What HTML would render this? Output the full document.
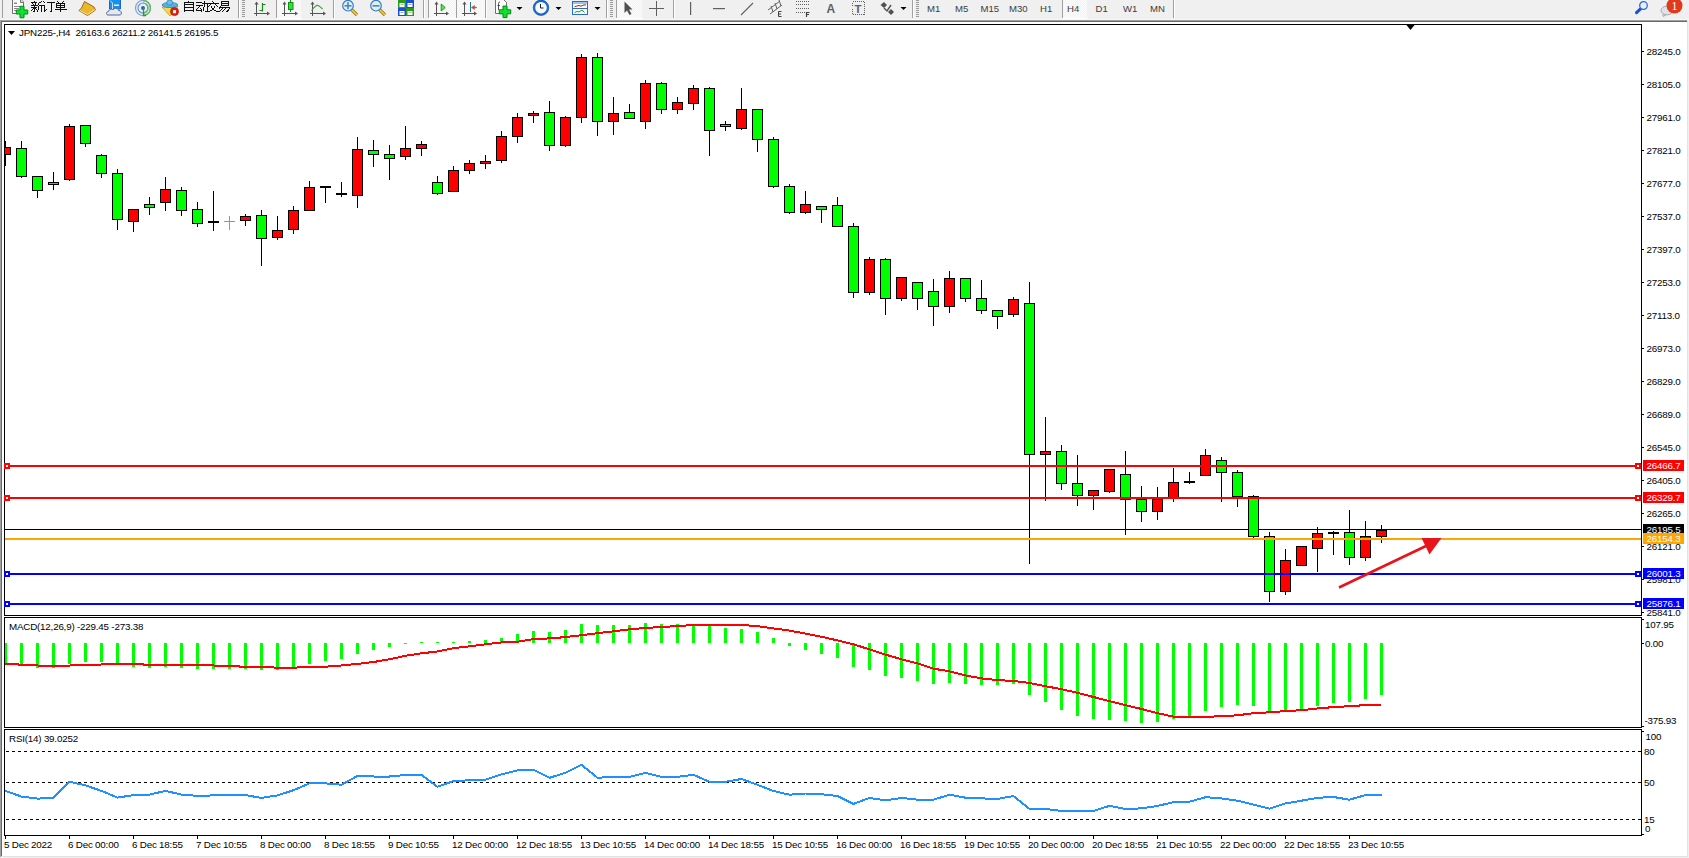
<!DOCTYPE html>
<html><head><meta charset="utf-8"><title>MT4 JPN225 H4</title>
<style>html,body{margin:0;padding:0;width:1689px;height:858px;overflow:hidden;background:#f0f0f0;font-family:"Liberation Sans", sans-serif;}</style>
</head><body><svg width="1689" height="858" viewBox="0 0 1689 858" style="display:block"><rect x="0" y="0" width="1689" height="858" fill="#f0f0f0"/><rect x="0" y="19" width="1689" height="1" fill="#f7f7f7"/><rect x="0" y="20" width="1688" height="1" fill="#a0a0a0"/><rect x="0" y="20" width="1" height="837" fill="#a0a0a0"/><rect x="1" y="21" width="1686" height="1" fill="#696969"/><rect x="1" y="21" width="1" height="835" fill="#696969"/><rect x="2" y="22" width="1685" height="834" fill="#ffffff"/><rect x="1687" y="20" width="1" height="837" fill="#e3e3e3"/><rect x="1" y="856" width="1687" height="1" fill="#e3e3e3"/><rect x="4" y="24" width="1638" height="1" fill="#000"/><rect x="4" y="615" width="1638" height="1" fill="#000"/><rect x="4" y="24" width="1" height="592" fill="#000"/><rect x="1641" y="24" width="1" height="592" fill="#000"/><rect x="4" y="617" width="1638" height="1" fill="#000"/><rect x="4" y="727" width="1638" height="1" fill="#000"/><rect x="4" y="617" width="1" height="111" fill="#000"/><rect x="1641" y="617" width="1" height="111" fill="#000"/><rect x="4" y="729" width="1638" height="1" fill="#000"/><rect x="4" y="835" width="1638" height="1" fill="#000"/><rect x="4" y="729" width="1" height="107" fill="#000"/><rect x="1641" y="729" width="1" height="107" fill="#000"/><rect x="1642" y="51" width="2" height="1" fill="#000"/><rect x="1642" y="84" width="2" height="1" fill="#000"/><rect x="1642" y="117" width="2" height="1" fill="#000"/><rect x="1642" y="150" width="2" height="1" fill="#000"/><rect x="1642" y="183" width="2" height="1" fill="#000"/><rect x="1642" y="216" width="2" height="1" fill="#000"/><rect x="1642" y="249" width="2" height="1" fill="#000"/><rect x="1642" y="282" width="2" height="1" fill="#000"/><rect x="1642" y="315" width="2" height="1" fill="#000"/><rect x="1642" y="348" width="2" height="1" fill="#000"/><rect x="1642" y="381" width="2" height="1" fill="#000"/><rect x="1642" y="414" width="2" height="1" fill="#000"/><rect x="1642" y="447" width="2" height="1" fill="#000"/><rect x="1642" y="480" width="2" height="1" fill="#000"/><rect x="1642" y="513" width="2" height="1" fill="#000"/><rect x="1642" y="546" width="2" height="1" fill="#000"/><rect x="1642" y="579" width="2" height="1" fill="#000"/><rect x="1642" y="612" width="2" height="1" fill="#000"/><rect x="1642" y="619" width="2" height="1" fill="#000"/><rect x="1642" y="643" width="2" height="1" fill="#000"/><rect x="1642" y="726" width="2" height="1" fill="#000"/><rect x="1642" y="731" width="2" height="1" fill="#000"/><rect x="1642" y="834" width="2" height="1" fill="#000"/><g font-family='"Liberation Sans", sans-serif' font-size="9.8" letter-spacing="-0.2" fill="#000"><text x="1646.5" y="55">28245.0</text><text x="1646.5" y="88">28105.0</text><text x="1646.5" y="121">27961.0</text><text x="1646.5" y="154">27821.0</text><text x="1646.5" y="187">27677.0</text><text x="1646.5" y="220">27537.0</text><text x="1646.5" y="253">27397.0</text><text x="1646.5" y="286">27253.0</text><text x="1646.5" y="319">27113.0</text><text x="1646.5" y="352">26973.0</text><text x="1646.5" y="385">26829.0</text><text x="1646.5" y="418">26689.0</text><text x="1646.5" y="451">26545.0</text><text x="1646.5" y="484">26405.0</text><text x="1646.5" y="517">26265.0</text><text x="1646.5" y="550">26121.0</text><text x="1646.5" y="583">25981.0</text><text x="1646.5" y="616">25841.0</text><text x="1645" y="628">107.95</text><text x="1645" y="647">0.00</text><text x="1644.5" y="724">-375.93</text><text x="1645.5" y="740">100</text><text x="1644" y="755">80</text><text x="1644" y="786">50</text><text x="1644" y="823">15</text><text x="1645" y="832">0</text></g><rect x="5" y="836" width="1" height="3" fill="#000"/><rect x="69" y="836" width="1" height="3" fill="#000"/><rect x="133" y="836" width="1" height="3" fill="#000"/><rect x="197" y="836" width="1" height="3" fill="#000"/><rect x="261" y="836" width="1" height="3" fill="#000"/><rect x="325" y="836" width="1" height="3" fill="#000"/><rect x="389" y="836" width="1" height="3" fill="#000"/><rect x="453" y="836" width="1" height="3" fill="#000"/><rect x="517" y="836" width="1" height="3" fill="#000"/><rect x="581" y="836" width="1" height="3" fill="#000"/><rect x="645" y="836" width="1" height="3" fill="#000"/><rect x="709" y="836" width="1" height="3" fill="#000"/><rect x="773" y="836" width="1" height="3" fill="#000"/><rect x="837" y="836" width="1" height="3" fill="#000"/><rect x="901" y="836" width="1" height="3" fill="#000"/><rect x="965" y="836" width="1" height="3" fill="#000"/><rect x="1029" y="836" width="1" height="3" fill="#000"/><rect x="1093" y="836" width="1" height="3" fill="#000"/><rect x="1157" y="836" width="1" height="3" fill="#000"/><rect x="1221" y="836" width="1" height="3" fill="#000"/><rect x="1285" y="836" width="1" height="3" fill="#000"/><rect x="1349" y="836" width="1" height="3" fill="#000"/><g font-family='"Liberation Sans", sans-serif' font-size="9.8" letter-spacing="-0.2" fill="#000"><text x="4" y="848">5 Dec 2022</text><text x="68" y="848">6 Dec 00:00</text><text x="132" y="848">6 Dec 18:55</text><text x="196" y="848">7 Dec 10:55</text><text x="260" y="848">8 Dec 00:00</text><text x="324" y="848">8 Dec 18:55</text><text x="388" y="848">9 Dec 10:55</text><text x="452" y="848">12 Dec 00:00</text><text x="516" y="848">12 Dec 18:55</text><text x="580" y="848">13 Dec 10:55</text><text x="644" y="848">14 Dec 00:00</text><text x="708" y="848">14 Dec 18:55</text><text x="772" y="848">15 Dec 10:55</text><text x="836" y="848">16 Dec 00:00</text><text x="900" y="848">16 Dec 18:55</text><text x="964" y="848">19 Dec 10:55</text><text x="1028" y="848">20 Dec 00:00</text><text x="1092" y="848">20 Dec 18:55</text><text x="1156" y="848">21 Dec 10:55</text><text x="1220" y="848">22 Dec 00:00</text><text x="1284" y="848">22 Dec 18:55</text><text x="1348" y="848">23 Dec 10:55</text></g><clipPath id="cmain"><rect x="5" y="25" width="1636" height="590"/></clipPath><clipPath id="cmacd"><rect x="5" y="618" width="1636" height="109"/></clipPath><clipPath id="crsi"><rect x="5" y="730" width="1636" height="105"/></clipPath><g clip-path="url(#cmain)" shape-rendering="crispEdges"><rect x="5" y="529" width="1636" height="1" fill="#000"/><rect x="5" y="141" width="1" height="25" fill="#000"/><rect x="0" y="147" width="11" height="8" fill="#000"/><rect x="1" y="148" width="9" height="6" fill="#ff0000"/><rect x="21" y="141" width="1" height="37" fill="#000"/><rect x="16" y="148" width="11" height="29" fill="#000"/><rect x="17" y="149" width="9" height="27" fill="#00ff00"/><rect x="37" y="176" width="1" height="22" fill="#000"/><rect x="32" y="176" width="11" height="15" fill="#000"/><rect x="33" y="177" width="9" height="13" fill="#00ff00"/><rect x="53" y="172" width="1" height="18" fill="#000"/><rect x="48" y="182" width="11" height="3" fill="#000"/><rect x="49" y="183" width="9" height="1" fill="#00ff00"/><rect x="69" y="124" width="1" height="57" fill="#000"/><rect x="64" y="126" width="11" height="54" fill="#000"/><rect x="65" y="127" width="9" height="52" fill="#ff0000"/><rect x="85" y="125" width="1" height="22" fill="#000"/><rect x="80" y="125" width="11" height="19" fill="#000"/><rect x="81" y="126" width="9" height="17" fill="#00ff00"/><rect x="101" y="154" width="1" height="24" fill="#000"/><rect x="96" y="155" width="11" height="19" fill="#000"/><rect x="97" y="156" width="9" height="17" fill="#00ff00"/><rect x="117" y="169" width="1" height="61" fill="#000"/><rect x="112" y="173" width="11" height="47" fill="#000"/><rect x="113" y="174" width="9" height="45" fill="#00ff00"/><rect x="133" y="209" width="1" height="23" fill="#000"/><rect x="128" y="209" width="11" height="13" fill="#000"/><rect x="129" y="210" width="9" height="11" fill="#ff0000"/><rect x="149" y="197" width="1" height="18" fill="#000"/><rect x="144" y="204" width="11" height="4" fill="#000"/><rect x="145" y="205" width="9" height="2" fill="#00ff00"/><rect x="165" y="177" width="1" height="34" fill="#000"/><rect x="160" y="189" width="11" height="14" fill="#000"/><rect x="161" y="190" width="9" height="12" fill="#ff0000"/><rect x="181" y="187" width="1" height="29" fill="#000"/><rect x="176" y="190" width="11" height="21" fill="#000"/><rect x="177" y="191" width="9" height="19" fill="#00ff00"/><rect x="197" y="202" width="1" height="25" fill="#000"/><rect x="192" y="209" width="11" height="15" fill="#000"/><rect x="193" y="210" width="9" height="13" fill="#00ff00"/><rect x="213" y="191" width="1" height="40" fill="#000"/><rect x="208" y="221" width="11" height="2" fill="#000"/><rect x="229" y="216" width="1" height="14" fill="#00ff00"/><rect x="224" y="221" width="11" height="1" fill="#00ff00"/><rect x="245" y="214" width="1" height="12" fill="#000"/><rect x="240" y="216" width="11" height="5" fill="#000"/><rect x="241" y="217" width="9" height="3" fill="#ff0000"/><rect x="261" y="210" width="1" height="56" fill="#000"/><rect x="256" y="215" width="11" height="24" fill="#000"/><rect x="257" y="216" width="9" height="22" fill="#00ff00"/><rect x="277" y="216" width="1" height="24" fill="#000"/><rect x="272" y="230" width="11" height="8" fill="#000"/><rect x="273" y="231" width="9" height="6" fill="#ff0000"/><rect x="293" y="206" width="1" height="28" fill="#000"/><rect x="288" y="210" width="11" height="20" fill="#000"/><rect x="289" y="211" width="9" height="18" fill="#ff0000"/><rect x="309" y="181" width="1" height="30" fill="#000"/><rect x="304" y="187" width="11" height="24" fill="#000"/><rect x="305" y="188" width="9" height="22" fill="#ff0000"/><rect x="325" y="186" width="1" height="17" fill="#000"/><rect x="320" y="186" width="11" height="2" fill="#000"/><rect x="341" y="182" width="1" height="15" fill="#000"/><rect x="336" y="193" width="11" height="2" fill="#000"/><rect x="357" y="137" width="1" height="71" fill="#000"/><rect x="352" y="149" width="11" height="47" fill="#000"/><rect x="353" y="150" width="9" height="45" fill="#ff0000"/><rect x="373" y="140" width="1" height="27" fill="#000"/><rect x="368" y="150" width="11" height="5" fill="#000"/><rect x="369" y="151" width="9" height="3" fill="#00ff00"/><rect x="389" y="145" width="1" height="35" fill="#000"/><rect x="384" y="154" width="11" height="5" fill="#000"/><rect x="385" y="155" width="9" height="3" fill="#00ff00"/><rect x="405" y="126" width="1" height="34" fill="#000"/><rect x="400" y="148" width="11" height="9" fill="#000"/><rect x="401" y="149" width="9" height="7" fill="#ff0000"/><rect x="421" y="141" width="1" height="15" fill="#000"/><rect x="416" y="144" width="11" height="5" fill="#000"/><rect x="417" y="145" width="9" height="3" fill="#ff0000"/><rect x="437" y="176" width="1" height="19" fill="#000"/><rect x="432" y="182" width="11" height="12" fill="#000"/><rect x="433" y="183" width="9" height="10" fill="#00ff00"/><rect x="453" y="166" width="1" height="26" fill="#000"/><rect x="448" y="170" width="11" height="22" fill="#000"/><rect x="449" y="171" width="9" height="20" fill="#ff0000"/><rect x="469" y="160" width="1" height="14" fill="#000"/><rect x="464" y="163" width="11" height="8" fill="#000"/><rect x="465" y="164" width="9" height="6" fill="#ff0000"/><rect x="485" y="155" width="1" height="14" fill="#000"/><rect x="480" y="161" width="11" height="3" fill="#000"/><rect x="481" y="162" width="9" height="1" fill="#ff0000"/><rect x="501" y="131" width="1" height="32" fill="#000"/><rect x="496" y="136" width="11" height="25" fill="#000"/><rect x="497" y="137" width="9" height="23" fill="#ff0000"/><rect x="517" y="113" width="1" height="30" fill="#000"/><rect x="512" y="117" width="11" height="20" fill="#000"/><rect x="513" y="118" width="9" height="18" fill="#ff0000"/><rect x="533" y="111" width="1" height="12" fill="#000"/><rect x="528" y="113" width="11" height="3" fill="#000"/><rect x="529" y="114" width="9" height="1" fill="#ff0000"/><rect x="549" y="101" width="1" height="50" fill="#000"/><rect x="544" y="112" width="11" height="34" fill="#000"/><rect x="545" y="113" width="9" height="32" fill="#00ff00"/><rect x="565" y="116" width="1" height="31" fill="#000"/><rect x="560" y="117" width="11" height="29" fill="#000"/><rect x="561" y="118" width="9" height="27" fill="#ff0000"/><rect x="581" y="54" width="1" height="69" fill="#000"/><rect x="576" y="57" width="11" height="61" fill="#000"/><rect x="577" y="58" width="9" height="59" fill="#ff0000"/><rect x="597" y="53" width="1" height="83" fill="#000"/><rect x="592" y="57" width="11" height="65" fill="#000"/><rect x="593" y="58" width="9" height="63" fill="#00ff00"/><rect x="613" y="97" width="1" height="38" fill="#000"/><rect x="608" y="113" width="11" height="9" fill="#000"/><rect x="609" y="114" width="9" height="7" fill="#ff0000"/><rect x="629" y="104" width="1" height="15" fill="#000"/><rect x="624" y="112" width="11" height="7" fill="#000"/><rect x="625" y="113" width="9" height="5" fill="#00ff00"/><rect x="645" y="80" width="1" height="49" fill="#000"/><rect x="640" y="83" width="11" height="39" fill="#000"/><rect x="641" y="84" width="9" height="37" fill="#ff0000"/><rect x="661" y="82" width="1" height="32" fill="#000"/><rect x="656" y="83" width="11" height="27" fill="#000"/><rect x="657" y="84" width="9" height="25" fill="#00ff00"/><rect x="677" y="97" width="1" height="17" fill="#000"/><rect x="672" y="102" width="11" height="8" fill="#000"/><rect x="673" y="103" width="9" height="6" fill="#ff0000"/><rect x="693" y="85" width="1" height="25" fill="#000"/><rect x="688" y="88" width="11" height="16" fill="#000"/><rect x="689" y="89" width="9" height="14" fill="#ff0000"/><rect x="709" y="87" width="1" height="69" fill="#000"/><rect x="704" y="88" width="11" height="43" fill="#000"/><rect x="705" y="89" width="9" height="41" fill="#00ff00"/><rect x="725" y="121" width="1" height="10" fill="#000"/><rect x="720" y="124" width="11" height="3" fill="#000"/><rect x="721" y="125" width="9" height="1" fill="#00ff00"/><rect x="741" y="88" width="1" height="42" fill="#000"/><rect x="736" y="109" width="11" height="20" fill="#000"/><rect x="737" y="110" width="9" height="18" fill="#ff0000"/><rect x="757" y="109" width="1" height="43" fill="#000"/><rect x="752" y="109" width="11" height="31" fill="#000"/><rect x="753" y="110" width="9" height="29" fill="#00ff00"/><rect x="773" y="137" width="1" height="51" fill="#000"/><rect x="768" y="139" width="11" height="48" fill="#000"/><rect x="769" y="140" width="9" height="46" fill="#00ff00"/><rect x="789" y="184" width="1" height="30" fill="#000"/><rect x="784" y="186" width="11" height="27" fill="#000"/><rect x="785" y="187" width="9" height="25" fill="#00ff00"/><rect x="805" y="191" width="1" height="23" fill="#000"/><rect x="800" y="204" width="11" height="9" fill="#000"/><rect x="801" y="205" width="9" height="7" fill="#ff0000"/><rect x="821" y="206" width="1" height="17" fill="#000"/><rect x="816" y="206" width="11" height="4" fill="#000"/><rect x="817" y="207" width="9" height="2" fill="#00ff00"/><rect x="837" y="197" width="1" height="30" fill="#000"/><rect x="832" y="205" width="11" height="22" fill="#000"/><rect x="833" y="206" width="9" height="20" fill="#00ff00"/><rect x="853" y="223" width="1" height="75" fill="#000"/><rect x="848" y="226" width="11" height="67" fill="#000"/><rect x="849" y="227" width="9" height="65" fill="#00ff00"/><rect x="869" y="257" width="1" height="38" fill="#000"/><rect x="864" y="259" width="11" height="34" fill="#000"/><rect x="865" y="260" width="9" height="32" fill="#ff0000"/><rect x="885" y="258" width="1" height="57" fill="#000"/><rect x="880" y="259" width="11" height="40" fill="#000"/><rect x="881" y="260" width="9" height="38" fill="#00ff00"/><rect x="901" y="277" width="1" height="24" fill="#000"/><rect x="896" y="277" width="11" height="22" fill="#000"/><rect x="897" y="278" width="9" height="20" fill="#ff0000"/><rect x="917" y="282" width="1" height="28" fill="#000"/><rect x="912" y="282" width="11" height="17" fill="#000"/><rect x="913" y="283" width="9" height="15" fill="#00ff00"/><rect x="933" y="279" width="1" height="47" fill="#000"/><rect x="928" y="291" width="11" height="16" fill="#000"/><rect x="929" y="292" width="9" height="14" fill="#00ff00"/><rect x="949" y="271" width="1" height="42" fill="#000"/><rect x="944" y="278" width="11" height="29" fill="#000"/><rect x="945" y="279" width="9" height="27" fill="#ff0000"/><rect x="965" y="278" width="1" height="24" fill="#000"/><rect x="960" y="278" width="11" height="21" fill="#000"/><rect x="961" y="279" width="9" height="19" fill="#00ff00"/><rect x="981" y="280" width="1" height="34" fill="#000"/><rect x="976" y="298" width="11" height="13" fill="#000"/><rect x="977" y="299" width="9" height="11" fill="#00ff00"/><rect x="997" y="310" width="1" height="19" fill="#000"/><rect x="992" y="310" width="11" height="7" fill="#000"/><rect x="993" y="311" width="9" height="5" fill="#00ff00"/><rect x="1013" y="297" width="1" height="20" fill="#000"/><rect x="1008" y="299" width="11" height="16" fill="#000"/><rect x="1009" y="300" width="9" height="14" fill="#ff0000"/><rect x="1029" y="282" width="1" height="282" fill="#000"/><rect x="1024" y="303" width="11" height="152" fill="#000"/><rect x="1025" y="304" width="9" height="150" fill="#00ff00"/><rect x="1045" y="417" width="1" height="84" fill="#000"/><rect x="1040" y="451" width="11" height="4" fill="#000"/><rect x="1041" y="452" width="9" height="2" fill="#ff0000"/><rect x="1061" y="445" width="1" height="45" fill="#000"/><rect x="1056" y="451" width="11" height="33" fill="#000"/><rect x="1057" y="452" width="9" height="31" fill="#00ff00"/><rect x="1077" y="455" width="1" height="51" fill="#000"/><rect x="1072" y="483" width="11" height="13" fill="#000"/><rect x="1073" y="484" width="9" height="11" fill="#00ff00"/><rect x="1093" y="490" width="1" height="20" fill="#000"/><rect x="1088" y="490" width="11" height="6" fill="#000"/><rect x="1089" y="491" width="9" height="4" fill="#ff0000"/><rect x="1109" y="469" width="1" height="24" fill="#000"/><rect x="1104" y="469" width="11" height="23" fill="#000"/><rect x="1105" y="470" width="9" height="21" fill="#ff0000"/><rect x="1125" y="451" width="1" height="84" fill="#000"/><rect x="1120" y="474" width="11" height="26" fill="#000"/><rect x="1121" y="475" width="9" height="24" fill="#00ff00"/><rect x="1141" y="486" width="1" height="36" fill="#000"/><rect x="1136" y="499" width="11" height="13" fill="#000"/><rect x="1137" y="500" width="9" height="11" fill="#00ff00"/><rect x="1157" y="487" width="1" height="33" fill="#000"/><rect x="1152" y="499" width="11" height="13" fill="#000"/><rect x="1153" y="500" width="9" height="11" fill="#ff0000"/><rect x="1173" y="468" width="1" height="34" fill="#000"/><rect x="1168" y="482" width="11" height="16" fill="#000"/><rect x="1169" y="483" width="9" height="14" fill="#ff0000"/><rect x="1189" y="472" width="1" height="12" fill="#000"/><rect x="1184" y="481" width="11" height="2" fill="#000"/><rect x="1205" y="449" width="1" height="27" fill="#000"/><rect x="1200" y="455" width="11" height="21" fill="#000"/><rect x="1201" y="456" width="9" height="19" fill="#ff0000"/><rect x="1221" y="457" width="1" height="45" fill="#000"/><rect x="1216" y="460" width="11" height="13" fill="#000"/><rect x="1217" y="461" width="9" height="11" fill="#00ff00"/><rect x="1237" y="470" width="1" height="37" fill="#000"/><rect x="1232" y="472" width="11" height="25" fill="#000"/><rect x="1233" y="473" width="9" height="23" fill="#00ff00"/><rect x="1253" y="495" width="1" height="43" fill="#000"/><rect x="1248" y="496" width="11" height="41" fill="#000"/><rect x="1249" y="497" width="9" height="39" fill="#00ff00"/><rect x="1269" y="532" width="1" height="70" fill="#000"/><rect x="1264" y="536" width="11" height="56" fill="#000"/><rect x="1265" y="537" width="9" height="54" fill="#00ff00"/><rect x="1285" y="549" width="1" height="46" fill="#000"/><rect x="1280" y="560" width="11" height="32" fill="#000"/><rect x="1281" y="561" width="9" height="30" fill="#ff0000"/><rect x="1301" y="546" width="1" height="20" fill="#000"/><rect x="1296" y="546" width="11" height="20" fill="#000"/><rect x="1297" y="547" width="9" height="18" fill="#ff0000"/><rect x="1317" y="527" width="1" height="45" fill="#000"/><rect x="1312" y="533" width="11" height="16" fill="#000"/><rect x="1313" y="534" width="9" height="14" fill="#ff0000"/><rect x="1333" y="531" width="1" height="24" fill="#000"/><rect x="1328" y="532" width="11" height="2" fill="#000"/><rect x="1349" y="510" width="1" height="55" fill="#000"/><rect x="1344" y="532" width="11" height="26" fill="#000"/><rect x="1345" y="533" width="9" height="24" fill="#00ff00"/><rect x="1365" y="521" width="1" height="40" fill="#000"/><rect x="1360" y="536" width="11" height="22" fill="#000"/><rect x="1361" y="537" width="9" height="20" fill="#ff0000"/><rect x="1381" y="525" width="1" height="18" fill="#000"/><rect x="1376" y="530" width="11" height="7" fill="#000"/><rect x="1377" y="531" width="9" height="5" fill="#ff0000"/><rect x="4" y="465" width="1637" height="2" fill="#ff0000"/><rect x="4" y="463" width="6" height="6" fill="#ff0000"/><rect x="6" y="465" width="2" height="2" fill="#fff"/><rect x="1635" y="463" width="6" height="6" fill="#ff0000"/><rect x="1637" y="465" width="2" height="2" fill="#fff"/><rect x="4" y="497" width="1637" height="2" fill="#ff0000"/><rect x="4" y="495" width="6" height="6" fill="#ff0000"/><rect x="6" y="497" width="2" height="2" fill="#fff"/><rect x="1635" y="495" width="6" height="6" fill="#ff0000"/><rect x="1637" y="497" width="2" height="2" fill="#fff"/><rect x="5" y="538" width="1636" height="2" fill="#ffa500"/><rect x="4" y="573" width="1637" height="2" fill="#0000ff"/><rect x="4" y="571" width="6" height="6" fill="#0000ff"/><rect x="6" y="573" width="2" height="2" fill="#fff"/><rect x="1635" y="571" width="6" height="6" fill="#0000ff"/><rect x="1637" y="573" width="2" height="2" fill="#fff"/><rect x="4" y="603" width="1637" height="2" fill="#0000ff"/><rect x="4" y="601" width="6" height="6" fill="#0000ff"/><rect x="6" y="603" width="2" height="2" fill="#fff"/><rect x="1635" y="601" width="6" height="6" fill="#0000ff"/><rect x="1637" y="603" width="2" height="2" fill="#fff"/><g shape-rendering="geometricPrecision"><line x1="1339" y1="587.5" x2="1426" y2="546" stroke="#e8141c" stroke-width="2.6"/><polygon points="1421.5,538 1441.5,538 1429.5,554.5" fill="#e8141c"/></g></g><rect x="4" y="463" width="6" height="6" fill="#ff0000"/><rect x="6" y="465" width="2" height="2" fill="#fff"/><rect x="4" y="495" width="6" height="6" fill="#ff0000"/><rect x="6" y="497" width="2" height="2" fill="#fff"/><rect x="4" y="571" width="6" height="6" fill="#0000ff"/><rect x="6" y="573" width="2" height="2" fill="#fff"/><rect x="4" y="601" width="6" height="6" fill="#0000ff"/><rect x="6" y="603" width="2" height="2" fill="#fff"/><rect x="1635" y="463" width="6" height="6" fill="#ff0000"/><rect x="1637" y="465" width="2" height="2" fill="#fff"/><rect x="1635" y="495" width="6" height="6" fill="#ff0000"/><rect x="1637" y="497" width="2" height="2" fill="#fff"/><rect x="1635" y="571" width="6" height="6" fill="#0000ff"/><rect x="1637" y="573" width="2" height="2" fill="#fff"/><rect x="1635" y="601" width="6" height="6" fill="#0000ff"/><rect x="1637" y="603" width="2" height="2" fill="#fff"/><rect x="1643" y="460" width="41" height="11" fill="#ff0000"/><text x="1646.5" y="469" font-family='"Liberation Sans", sans-serif' font-size="9.8" letter-spacing="-0.2" fill="#fff">26466.7</text><rect x="1643" y="492" width="41" height="11" fill="#ff0000"/><text x="1646.5" y="501" font-family='"Liberation Sans", sans-serif' font-size="9.8" letter-spacing="-0.2" fill="#fff">26329.7</text><rect x="1643" y="524" width="41" height="11" fill="#000000"/><text x="1646.5" y="533" font-family='"Liberation Sans", sans-serif' font-size="9.8" letter-spacing="-0.2" fill="#fff">26195.5</text><rect x="1643" y="533" width="41" height="11" fill="#ffa500"/><text x="1646.5" y="542" font-family='"Liberation Sans", sans-serif' font-size="9.8" letter-spacing="-0.2" fill="#fff">26154.3</text><rect x="1643" y="568" width="41" height="11" fill="#0000ff"/><text x="1646.5" y="577" font-family='"Liberation Sans", sans-serif' font-size="9.8" letter-spacing="-0.2" fill="#fff">26001.3</text><rect x="1643" y="598" width="41" height="11" fill="#0000ff"/><text x="1646.5" y="607" font-family='"Liberation Sans", sans-serif' font-size="9.8" letter-spacing="-0.2" fill="#fff">25876.1</text><polygon points="8,31 15,31 11.5,35" fill="#000"/><text x="19" y="36" font-family='"Liberation Sans", sans-serif' font-size="9.8" letter-spacing="-0.2" fill="#000" xml:space="preserve">JPN225-,H4  26163.6 26211.2 26141.5 26195.5</text><polygon points="1406,24.5 1415,24.5 1410.5,30" fill="#000"/><g clip-path="url(#cmacd)" shape-rendering="crispEdges"><rect x="4" y="643" width="3" height="20" fill="#00ff00"/><rect x="20" y="643" width="3" height="21" fill="#00ff00"/><rect x="36" y="643" width="3" height="25" fill="#00ff00"/><rect x="52" y="643" width="3" height="25" fill="#00ff00"/><rect x="68" y="643" width="3" height="21" fill="#00ff00"/><rect x="84" y="643" width="3" height="19" fill="#00ff00"/><rect x="100" y="643" width="3" height="19" fill="#00ff00"/><rect x="116" y="643" width="3" height="20" fill="#00ff00"/><rect x="132" y="643" width="3" height="24" fill="#00ff00"/><rect x="148" y="643" width="3" height="25" fill="#00ff00"/><rect x="164" y="643" width="3" height="24" fill="#00ff00"/><rect x="180" y="643" width="3" height="25" fill="#00ff00"/><rect x="196" y="643" width="3" height="26" fill="#00ff00"/><rect x="212" y="643" width="3" height="26" fill="#00ff00"/><rect x="228" y="643" width="3" height="26" fill="#00ff00"/><rect x="244" y="643" width="3" height="26" fill="#00ff00"/><rect x="260" y="643" width="3" height="27" fill="#00ff00"/><rect x="276" y="643" width="3" height="27" fill="#00ff00"/><rect x="292" y="643" width="3" height="24" fill="#00ff00"/><rect x="308" y="643" width="3" height="21" fill="#00ff00"/><rect x="324" y="643" width="3" height="18" fill="#00ff00"/><rect x="340" y="643" width="3" height="16" fill="#00ff00"/><rect x="356" y="643" width="3" height="11" fill="#00ff00"/><rect x="372" y="643" width="3" height="7" fill="#00ff00"/><rect x="388" y="643" width="3" height="4" fill="#00ff00"/><rect x="404" y="643" width="3" height="1" fill="#00ff00"/><rect x="420" y="642" width="3" height="1" fill="#00ff00"/><rect x="436" y="642" width="3" height="1" fill="#00ff00"/><rect x="452" y="642" width="3" height="1" fill="#00ff00"/><rect x="468" y="641" width="3" height="2" fill="#00ff00"/><rect x="484" y="640" width="3" height="3" fill="#00ff00"/><rect x="500" y="638" width="3" height="5" fill="#00ff00"/><rect x="516" y="634" width="3" height="9" fill="#00ff00"/><rect x="532" y="631" width="3" height="12" fill="#00ff00"/><rect x="548" y="632" width="3" height="11" fill="#00ff00"/><rect x="564" y="630" width="3" height="13" fill="#00ff00"/><rect x="580" y="624" width="3" height="19" fill="#00ff00"/><rect x="596" y="625" width="3" height="18" fill="#00ff00"/><rect x="612" y="625" width="3" height="18" fill="#00ff00"/><rect x="628" y="625" width="3" height="18" fill="#00ff00"/><rect x="644" y="623" width="3" height="20" fill="#00ff00"/><rect x="660" y="624" width="3" height="19" fill="#00ff00"/><rect x="676" y="624" width="3" height="19" fill="#00ff00"/><rect x="692" y="624" width="3" height="19" fill="#00ff00"/><rect x="708" y="626" width="3" height="17" fill="#00ff00"/><rect x="724" y="628" width="3" height="15" fill="#00ff00"/><rect x="740" y="629" width="3" height="14" fill="#00ff00"/><rect x="756" y="632" width="3" height="11" fill="#00ff00"/><rect x="772" y="638" width="3" height="5" fill="#00ff00"/><rect x="788" y="643" width="3" height="3" fill="#00ff00"/><rect x="804" y="643" width="3" height="7" fill="#00ff00"/><rect x="820" y="643" width="3" height="11" fill="#00ff00"/><rect x="836" y="643" width="3" height="15" fill="#00ff00"/><rect x="852" y="643" width="3" height="24" fill="#00ff00"/><rect x="868" y="643" width="3" height="27" fill="#00ff00"/><rect x="884" y="643" width="3" height="33" fill="#00ff00"/><rect x="900" y="643" width="3" height="35" fill="#00ff00"/><rect x="916" y="643" width="3" height="38" fill="#00ff00"/><rect x="932" y="643" width="3" height="41" fill="#00ff00"/><rect x="948" y="643" width="3" height="40" fill="#00ff00"/><rect x="964" y="643" width="3" height="41" fill="#00ff00"/><rect x="980" y="643" width="3" height="42" fill="#00ff00"/><rect x="996" y="643" width="3" height="42" fill="#00ff00"/><rect x="1012" y="643" width="3" height="41" fill="#00ff00"/><rect x="1028" y="643" width="3" height="52" fill="#00ff00"/><rect x="1044" y="643" width="3" height="59" fill="#00ff00"/><rect x="1060" y="643" width="3" height="67" fill="#00ff00"/><rect x="1076" y="643" width="3" height="73" fill="#00ff00"/><rect x="1092" y="643" width="3" height="76" fill="#00ff00"/><rect x="1108" y="643" width="3" height="77" fill="#00ff00"/><rect x="1124" y="643" width="3" height="78" fill="#00ff00"/><rect x="1140" y="643" width="3" height="80" fill="#00ff00"/><rect x="1156" y="643" width="3" height="79" fill="#00ff00"/><rect x="1172" y="643" width="3" height="76" fill="#00ff00"/><rect x="1188" y="643" width="3" height="73" fill="#00ff00"/><rect x="1204" y="643" width="3" height="68" fill="#00ff00"/><rect x="1220" y="643" width="3" height="64" fill="#00ff00"/><rect x="1236" y="643" width="3" height="62" fill="#00ff00"/><rect x="1252" y="643" width="3" height="63" fill="#00ff00"/><rect x="1268" y="643" width="3" height="68" fill="#00ff00"/><rect x="1284" y="643" width="3" height="68" fill="#00ff00"/><rect x="1300" y="643" width="3" height="66" fill="#00ff00"/><rect x="1316" y="643" width="3" height="63" fill="#00ff00"/><rect x="1332" y="643" width="3" height="60" fill="#00ff00"/><rect x="1348" y="643" width="3" height="59" fill="#00ff00"/><rect x="1364" y="643" width="3" height="56" fill="#00ff00"/><rect x="1380" y="643" width="3" height="52" fill="#00ff00"/></g><g clip-path="url(#cmacd)" shape-rendering="crispEdges"><polyline points="4,663.7 5.5,663.7 21.5,664.7 37.5,665.5 53.5,665.5 69.5,665.5 85.5,665.3 101.5,664.5 117.5,663.7 133.5,664.2 149.5,664.7 165.5,664.7 181.5,664.7 197.5,665 213.5,665.5 229.5,666.2 245.5,666.7 261.5,667.2 277.5,667.6 293.5,667.6 309.5,667.2 325.5,666.7 341.5,665.5 357.5,663.9 373.5,662 389.5,659.3 405.5,655.8 421.5,653.3 437.5,651.5 453.5,648.2 469.5,646.3 485.5,644.3 501.5,642.4 517.5,641.7 533.5,639.1 549.5,638.4 565.5,637.1 581.5,635.2 597.5,633.2 613.5,631.3 629.5,629.3 645.5,628 661.5,627 677.5,626.1 693.5,625 709.5,625 725.5,625 741.5,625 757.5,626.1 773.5,628.4 789.5,630.6 805.5,633.6 821.5,636.8 837.5,640.4 853.5,644.3 869.5,649.4 885.5,654.6 901.5,659.3 917.5,663.4 933.5,668.7 949.5,671.3 965.5,675.4 981.5,678.4 997.5,680.1 1013.5,681 1029.5,683 1045.5,686.2 1061.5,689.2 1077.5,692.8 1093.5,697 1109.5,701.2 1125.5,705.1 1141.5,709 1157.5,713.2 1173.5,716.6 1189.5,716.9 1205.5,716.9 1221.5,716.2 1237.5,715.3 1253.5,713.2 1269.5,712.3 1285.5,711.1 1301.5,710.2 1317.5,708.4 1333.5,707.1 1349.5,706.2 1365.5,705.1 1381.5,705" fill="none" stroke="#ff0000" stroke-width="2" stroke-linejoin="round"/></g><text x="9" y="630" font-family='"Liberation Sans", sans-serif' font-size="9.8" letter-spacing="-0.2" fill="#000">MACD(12,26,9) -229.45 -273.38</text><g clip-path="url(#crsi)" shape-rendering="crispEdges"><line x1="6" y1="751.5" x2="1641" y2="751.5" stroke="#000" stroke-width="1" stroke-dasharray="3 3"/><line x1="6" y1="782.5" x2="1641" y2="782.5" stroke="#000" stroke-width="1" stroke-dasharray="3 3"/><line x1="6" y1="819.5" x2="1641" y2="819.5" stroke="#000" stroke-width="1" stroke-dasharray="3 3"/></g><g clip-path="url(#crsi)" shape-rendering="crispEdges"><polyline points="4.5,790.9 5.5,790.9 21.5,796.6 37.5,798.6 53.5,797.9 69.5,781.7 85.5,785.4 101.5,790.9 117.5,797.6 133.5,795.1 149.5,794.6 165.5,790.9 181.5,794.6 197.5,795.9 213.5,795.4 229.5,795.1 245.5,795.1 261.5,797.9 277.5,795.4 293.5,790.2 309.5,783.4 325.5,783.4 341.5,784.7 357.5,776 373.5,776.5 389.5,776.5 405.5,775 421.5,774.8 437.5,786.8 453.5,781 469.5,780.3 485.5,779.8 501.5,774.3 517.5,770.3 533.5,769.8 549.5,777.8 565.5,772.8 581.5,764.9 597.5,777.8 613.5,776.8 629.5,776.8 645.5,772.8 661.5,776.8 677.5,776.8 693.5,774.8 709.5,781.8 725.5,781.8 741.5,779 757.5,784.8 773.5,791 789.5,794.7 805.5,793.5 821.5,794.2 837.5,796 853.5,803.9 869.5,797.9 885.5,800.4 901.5,797.9 917.5,799.7 933.5,799.7 949.5,794.7 965.5,797.7 981.5,798.4 997.5,798.9 1013.5,796 1029.5,808.9 1045.5,808.9 1061.5,810.9 1077.5,810.9 1093.5,810.9 1109.5,805.9 1125.5,808.9 1141.5,808.4 1157.5,805.9 1173.5,802.2 1189.5,801.7 1205.5,797.2 1221.5,798.4 1237.5,800.7 1253.5,804.7 1269.5,808.6 1285.5,803.4 1301.5,800.7 1317.5,797.8 1333.5,797 1349.5,799.7 1365.5,795 1381.5,795" fill="none" stroke="#1e90ff" stroke-width="2" stroke-linejoin="round"/></g><text x="9" y="742" font-family='"Liberation Sans", sans-serif' font-size="9.8" letter-spacing="-0.2" fill="#000">RSI(14) 39.0252</text><rect x="2" y="0" width="1" height="18" fill="#a0a0a0"/><path d="M12.5,-1 H20.5 L23.5,2 V13.5 H12.5 Z" fill="#fff" stroke="#707070" stroke-width="1"/><path d="M20.5,-1 V2.5 H23.5" fill="#e0e0e0" stroke="#707070" stroke-width="1"/><rect x="14" y="2.5" width="3" height="1.5" fill="#888"/><rect x="14" y="6" width="6" height="1" fill="#888"/><rect x="14" y="8" width="5" height="1" fill="#888"/><rect x="14" y="10" width="4" height="1" fill="#888"/><path d="M20.0,6.25 H24.0 V10.0 H27.75 V14.0 H24.0 V17.75 H20.0 V14.0 H16.25 V10.0 H20.0 Z" fill="#10e030" stroke="#008a10" stroke-width="1"/><path d="M34,1h1v1h-1zM41,1h1v1h-1zM31,2h1v1h-1zM32,2h1v1h-1zM33,2h1v1h-1zM34,2h1v1h-1zM35,2h1v1h-1zM36,2h1v1h-1zM39,2h1v1h-1zM40,2h1v1h-1zM32,3h1v1h-1zM35,3h1v1h-1zM38,3h1v1h-1zM33,4h1v1h-1zM35,4h1v1h-1zM38,4h1v1h-1zM31,5h1v1h-1zM32,5h1v1h-1zM33,5h1v1h-1zM34,5h1v1h-1zM35,5h1v1h-1zM36,5h1v1h-1zM37,5h1v1h-1zM39,5h1v1h-1zM40,5h1v1h-1zM41,5h1v1h-1zM42,5h1v1h-1zM34,6h1v1h-1zM38,6h1v1h-1zM41,6h1v1h-1zM31,7h1v1h-1zM32,7h1v1h-1zM33,7h1v1h-1zM34,7h1v1h-1zM35,7h1v1h-1zM36,7h1v1h-1zM38,7h1v1h-1zM41,7h1v1h-1zM33,8h1v1h-1zM34,8h1v1h-1zM35,8h1v1h-1zM38,8h1v1h-1zM41,8h1v1h-1zM32,9h1v1h-1zM34,9h1v1h-1zM36,9h1v1h-1zM38,9h1v1h-1zM41,9h1v1h-1zM31,10h1v1h-1zM34,10h1v1h-1zM37,10h1v1h-1zM41,10h1v1h-1zM33,11h1v1h-1zM34,11h1v1h-1zM37,11h1v1h-1zM41,11h1v1h-1z" fill="#101010"/><path d="M43,1h1v1h-1zM44,2h1v1h-1zM47,2h1v1h-1zM48,2h1v1h-1zM49,2h1v1h-1zM50,2h1v1h-1zM51,2h1v1h-1zM52,2h1v1h-1zM53,2h1v1h-1zM54,2h1v1h-1zM51,3h1v1h-1zM51,4h1v1h-1zM43,5h1v1h-1zM44,5h1v1h-1zM51,5h1v1h-1zM44,6h1v1h-1zM51,6h1v1h-1zM44,7h1v1h-1zM51,7h1v1h-1zM44,8h1v1h-1zM51,8h1v1h-1zM44,9h1v1h-1zM46,9h1v1h-1zM51,9h1v1h-1zM44,10h1v1h-1zM45,10h1v1h-1zM51,10h1v1h-1zM44,11h1v1h-1zM50,11h1v1h-1zM51,11h1v1h-1z" fill="#101010"/><path d="M57,1h1v1h-1zM63,1h1v1h-1zM58,2h1v1h-1zM62,2h1v1h-1zM56,3h1v1h-1zM57,3h1v1h-1zM58,3h1v1h-1zM59,3h1v1h-1zM60,3h1v1h-1zM61,3h1v1h-1zM62,3h1v1h-1zM63,3h1v1h-1zM64,3h1v1h-1zM56,4h1v1h-1zM60,4h1v1h-1zM64,4h1v1h-1zM56,5h1v1h-1zM57,5h1v1h-1zM58,5h1v1h-1zM59,5h1v1h-1zM60,5h1v1h-1zM61,5h1v1h-1zM62,5h1v1h-1zM63,5h1v1h-1zM64,5h1v1h-1zM56,6h1v1h-1zM60,6h1v1h-1zM64,6h1v1h-1zM56,7h1v1h-1zM57,7h1v1h-1zM58,7h1v1h-1zM59,7h1v1h-1zM60,7h1v1h-1zM61,7h1v1h-1zM62,7h1v1h-1zM63,7h1v1h-1zM64,7h1v1h-1zM60,8h1v1h-1zM55,9h1v1h-1zM56,9h1v1h-1zM57,9h1v1h-1zM58,9h1v1h-1zM59,9h1v1h-1zM60,9h1v1h-1zM61,9h1v1h-1zM62,9h1v1h-1zM63,9h1v1h-1zM64,9h1v1h-1zM65,9h1v1h-1zM66,9h1v1h-1zM60,10h1v1h-1zM60,11h1v1h-1z" fill="#101010"/><path d="M188,1h1v1h-1zM184,2h1v1h-1zM185,2h1v1h-1zM186,2h1v1h-1zM187,2h1v1h-1zM188,2h1v1h-1zM189,2h1v1h-1zM190,2h1v1h-1zM191,2h1v1h-1zM192,2h1v1h-1zM193,2h1v1h-1zM184,3h1v1h-1zM193,3h1v1h-1zM184,4h1v1h-1zM185,4h1v1h-1zM186,4h1v1h-1zM187,4h1v1h-1zM188,4h1v1h-1zM189,4h1v1h-1zM190,4h1v1h-1zM191,4h1v1h-1zM192,4h1v1h-1zM193,4h1v1h-1zM184,5h1v1h-1zM193,5h1v1h-1zM184,6h1v1h-1zM193,6h1v1h-1zM184,7h1v1h-1zM185,7h1v1h-1zM186,7h1v1h-1zM187,7h1v1h-1zM188,7h1v1h-1zM189,7h1v1h-1zM190,7h1v1h-1zM191,7h1v1h-1zM192,7h1v1h-1zM193,7h1v1h-1zM184,8h1v1h-1zM193,8h1v1h-1zM184,9h1v1h-1zM193,9h1v1h-1zM184,10h1v1h-1zM185,10h1v1h-1zM186,10h1v1h-1zM187,10h1v1h-1zM188,10h1v1h-1zM189,10h1v1h-1zM190,10h1v1h-1zM191,10h1v1h-1zM192,10h1v1h-1zM193,10h1v1h-1zM184,11h1v1h-1zM193,11h1v1h-1z" fill="#101010"/><path d="M204,1h1v1h-1zM196,2h1v1h-1zM197,2h1v1h-1zM198,2h1v1h-1zM199,2h1v1h-1zM200,2h1v1h-1zM201,2h1v1h-1zM204,2h1v1h-1zM202,3h1v1h-1zM203,3h1v1h-1zM204,3h1v1h-1zM205,3h1v1h-1zM206,3h1v1h-1zM204,4h1v1h-1zM207,4h1v1h-1zM196,5h1v1h-1zM197,5h1v1h-1zM198,5h1v1h-1zM199,5h1v1h-1zM200,5h1v1h-1zM201,5h1v1h-1zM202,5h1v1h-1zM204,5h1v1h-1zM207,5h1v1h-1zM199,6h1v1h-1zM204,6h1v1h-1zM207,6h1v1h-1zM198,7h1v1h-1zM203,7h1v1h-1zM207,7h1v1h-1zM197,8h1v1h-1zM200,8h1v1h-1zM203,8h1v1h-1zM207,8h1v1h-1zM196,9h1v1h-1zM201,9h1v1h-1zM203,9h1v1h-1zM207,9h1v1h-1zM196,10h1v1h-1zM197,10h1v1h-1zM198,10h1v1h-1zM199,10h1v1h-1zM200,10h1v1h-1zM201,10h1v1h-1zM203,10h1v1h-1zM207,10h1v1h-1zM201,11h1v1h-1zM205,11h1v1h-1zM206,11h1v1h-1zM207,11h1v1h-1z" fill="#101010"/><path d="M212,1h1v1h-1zM213,2h1v1h-1zM207,3h1v1h-1zM208,3h1v1h-1zM209,3h1v1h-1zM210,3h1v1h-1zM211,3h1v1h-1zM212,3h1v1h-1zM213,3h1v1h-1zM214,3h1v1h-1zM215,3h1v1h-1zM216,3h1v1h-1zM217,3h1v1h-1zM218,3h1v1h-1zM210,4h1v1h-1zM215,4h1v1h-1zM209,5h1v1h-1zM216,5h1v1h-1zM208,6h1v1h-1zM211,6h1v1h-1zM214,6h1v1h-1zM217,6h1v1h-1zM211,7h1v1h-1zM214,7h1v1h-1zM212,8h1v1h-1zM213,8h1v1h-1zM212,9h1v1h-1zM213,9h1v1h-1zM210,10h1v1h-1zM211,10h1v1h-1zM214,10h1v1h-1zM215,10h1v1h-1zM207,11h1v1h-1zM208,11h1v1h-1zM209,11h1v1h-1zM216,11h1v1h-1zM217,11h1v1h-1zM218,11h1v1h-1z" fill="#101010"/><path d="M221,1h1v1h-1zM222,1h1v1h-1zM223,1h1v1h-1zM224,1h1v1h-1zM225,1h1v1h-1zM226,1h1v1h-1zM227,1h1v1h-1zM228,1h1v1h-1zM221,2h1v1h-1zM228,2h1v1h-1zM221,3h1v1h-1zM222,3h1v1h-1zM223,3h1v1h-1zM224,3h1v1h-1zM225,3h1v1h-1zM226,3h1v1h-1zM227,3h1v1h-1zM228,3h1v1h-1zM221,4h1v1h-1zM228,4h1v1h-1zM221,5h1v1h-1zM222,5h1v1h-1zM223,5h1v1h-1zM224,5h1v1h-1zM225,5h1v1h-1zM226,5h1v1h-1zM227,5h1v1h-1zM228,5h1v1h-1zM220,6h1v1h-1zM219,7h1v1h-1zM220,7h1v1h-1zM221,7h1v1h-1zM222,7h1v1h-1zM223,7h1v1h-1zM224,7h1v1h-1zM225,7h1v1h-1zM226,7h1v1h-1zM227,7h1v1h-1zM228,7h1v1h-1zM229,7h1v1h-1zM219,8h1v1h-1zM222,8h1v1h-1zM225,8h1v1h-1zM229,8h1v1h-1zM221,9h1v1h-1zM224,9h1v1h-1zM228,9h1v1h-1zM220,10h1v1h-1zM223,10h1v1h-1zM227,10h1v1h-1zM228,10h1v1h-1zM219,11h1v1h-1zM222,11h1v1h-1zM226,11h1v1h-1zM227,11h1v1h-1z" fill="#101010"/><path d="M84.5,1.5 L94,7 L95.5,10 L87.5,15.5 L79,10.5 L81.5,8 Z" fill="#e9b82a" stroke="#a4661a" stroke-width="1"/><path d="M80,10.5 L87.5,14.5 L95,9.5" fill="none" stroke="#fff2b0" stroke-width="0.8"/><path d="M109.5,-1 V9 H120.5 V-1 Z" fill="#1a90ee" stroke="#1a68c0" stroke-width="1"/><path d="M110,0.5 L112.5,3 V9" fill="none" stroke="#bfe2ff" stroke-width="1"/><rect x="114" y="4.5" width="5" height="1.5" fill="#e8f4ff"/><path d="M108,15 C106,15 106,11.5 108.5,11.5 C109,9 112,8.5 113,10 C114,7.5 118.5,8 118.5,10.5 C121.5,10 122.5,14.5 120,15 Z" fill="#e4e8f0" stroke="#50689a" stroke-width="1"/><circle cx="143" cy="8" r="7.5" fill="none" stroke="#6a9ad8" stroke-width="1.2" opacity="0.9"/><circle cx="143" cy="8" r="5" fill="none" stroke="#5a8ad0" stroke-width="1.2" opacity="0.9"/><path d="M143,0.5 A7.5,7.5 0 0 1 143,15.5" fill="none" stroke="#6ab46a" stroke-width="1.4"/><path d="M143,3 A5,5 0 0 1 143,13" fill="none" stroke="#6ab46a" stroke-width="1.2"/><circle cx="143" cy="8" r="2" fill="#2a60c8"/><path d="M143.5,8 V15.5 H146" fill="none" stroke="#20a020" stroke-width="1.3"/><polygon points="162,7 178,6.5 170,16" fill="#f6d840" stroke="#c89a10" stroke-width="0.8"/><ellipse cx="170" cy="5" rx="7.8" ry="2.6" fill="#5ab0e0" stroke="#2a88b8" stroke-width="0.8"/><ellipse cx="169.7" cy="2.6" rx="3" ry="2.6" fill="#6cc0ec" stroke="#2a88b8" stroke-width="0.8"/><circle cx="174.5" cy="11.6" r="4" fill="#e02010" stroke="#b01808" stroke-width="0.8"/><rect x="173" y="10.2" width="3" height="3" fill="#fff"/><rect x="238" y="0" width="1" height="18" fill="#a0a0a0"/><rect x="239" y="0" width="1" height="18" fill="#ffffff"/><rect x="242" y="0" width="3" height="1" fill="#9a9a9a"/><rect x="242" y="2" width="3" height="1" fill="#9a9a9a"/><rect x="242" y="4" width="3" height="1" fill="#9a9a9a"/><rect x="242" y="6" width="3" height="1" fill="#9a9a9a"/><rect x="242" y="8" width="3" height="1" fill="#9a9a9a"/><rect x="242" y="10" width="3" height="1" fill="#9a9a9a"/><rect x="242" y="12" width="3" height="1" fill="#9a9a9a"/><rect x="242" y="14" width="3" height="1" fill="#9a9a9a"/><rect x="242" y="16" width="3" height="1" fill="#9a9a9a"/><rect x="256" y="3" width="1" height="13" fill="#555555"/><polygon points="254.5,4.5 258.5,4.5 256.5,1.5" fill="#555555"/><rect x="254" y="13" width="14" height="1" fill="#555555"/><polygon points="267,11.5 267,15.5 270,13.5" fill="#555555"/><path d="M262.5,3 V11.5 M262.5,4.5 H265.5 M262.5,10.5 H259.5" stroke="#109010" stroke-width="1.2" fill="none"/><rect x="276" y="0" width="1" height="18" fill="#a0a0a0"/><rect x="277" y="0" width="1" height="18" fill="#ffffff"/><defs><pattern id="chk277" width="2" height="2" patternUnits="userSpaceOnUse"><rect width="2" height="2" fill="#f4f4f4"/><rect width="1" height="1" fill="#fbfbfb"/><rect x="1" y="1" width="1" height="1" fill="#fbfbfb"/></pattern></defs><rect x="277" y="0" width="24" height="18" fill="url(#chk277)"/><rect x="276" y="18" width="26" height="1" fill="#ffffff"/><rect x="284" y="3" width="1" height="13" fill="#555555"/><polygon points="282.5,4.5 286.5,4.5 284.5,1.5" fill="#555555"/><rect x="282" y="13" width="14" height="1" fill="#555555"/><polygon points="295,11.5 295,15.5 298,13.5" fill="#555555"/><rect x="290" y="0" width="1" height="12" fill="#109010"/><rect x="288.5" y="2.5" width="4.5" height="7" fill="#30e040" stroke="#109010" stroke-width="1"/><rect x="312" y="3" width="1" height="13" fill="#555555"/><polygon points="310.5,4.5 314.5,4.5 312.5,1.5" fill="#555555"/><rect x="310" y="13" width="14" height="1" fill="#555555"/><polygon points="323,11.5 323,15.5 326,13.5" fill="#555555"/><path d="M311.5,10.5 Q314,7 317,5.3 Q319,5.5 322.5,9" stroke="#30a030" stroke-width="1.1" fill="none"/><rect x="333" y="0" width="1" height="18" fill="#a0a0a0"/><rect x="334" y="0" width="1" height="18" fill="#ffffff"/><path d="M351.5,9.5 L357,15" stroke="#a87810" stroke-width="3.2" stroke-linecap="butt"/><path d="M351.5,9.5 L357,15" stroke="#f0d050" stroke-width="1.6"/><circle cx="348" cy="5.7" r="5.3" fill="#dcf0fa" stroke="#3a7cc0" stroke-width="1.2"/><rect x="344.5" y="5" width="7" height="1.6" fill="#4a88b0"/><rect x="347.2" y="2" width="1.6" height="7.2" fill="#4a88b0"/><path d="M379.5,9.5 L385,15" stroke="#a87810" stroke-width="3.2" stroke-linecap="butt"/><path d="M379.5,9.5 L385,15" stroke="#f0d050" stroke-width="1.6"/><circle cx="376" cy="5.7" r="5.3" fill="#dcf0fa" stroke="#3a7cc0" stroke-width="1.2"/><rect x="372.5" y="5" width="7" height="1.6" fill="#4a88b0"/><rect x="398" y="0" width="8" height="8" fill="#2a9a1a"/><rect x="399.5" y="3" width="5" height="4" fill="#fff"/><rect x="400.5" y="4" width="3" height="1" fill="#2a9a1a" opacity="0.5"/><rect x="406" y="0" width="8" height="8" fill="#1a50d0"/><rect x="407.5" y="3" width="5" height="4" fill="#fff"/><rect x="408.5" y="4" width="3" height="1" fill="#1a50d0" opacity="0.5"/><rect x="398" y="8" width="8" height="8" fill="#1a50d0"/><rect x="399.5" y="11" width="5" height="4" fill="#fff"/><rect x="400.5" y="12" width="3" height="1" fill="#1a50d0" opacity="0.5"/><rect x="406" y="8" width="8" height="8" fill="#2a9a1a"/><rect x="407.5" y="11" width="5" height="4" fill="#fff"/><rect x="408.5" y="12" width="3" height="1" fill="#2a9a1a" opacity="0.5"/><rect x="423" y="0" width="1" height="18" fill="#a0a0a0"/><rect x="424" y="0" width="1" height="18" fill="#ffffff"/><rect x="428" y="0" width="1" height="18" fill="#a0a0a0"/><rect x="429" y="0" width="1" height="18" fill="#ffffff"/><defs><pattern id="chk429" width="2" height="2" patternUnits="userSpaceOnUse"><rect width="2" height="2" fill="#f4f4f4"/><rect width="1" height="1" fill="#fbfbfb"/><rect x="1" y="1" width="1" height="1" fill="#fbfbfb"/></pattern></defs><rect x="429" y="0" width="27" height="18" fill="url(#chk429)"/><rect x="428" y="18" width="29" height="1" fill="#ffffff"/><rect x="436" y="3" width="1" height="13" fill="#555555"/><polygon points="434.5,4.5 438.5,4.5 436.5,1.5" fill="#555555"/><rect x="434" y="13" width="13" height="1" fill="#555555"/><polygon points="446,11.5 446,15.5 449,13.5" fill="#555555"/><polygon points="441.2,4 445.2,7.5 441.2,11" fill="#60e060" stroke="#109010" stroke-width="0.9"/><rect x="456" y="0" width="1" height="18" fill="#a0a0a0"/><rect x="457" y="0" width="1" height="18" fill="#ffffff"/><defs><pattern id="chk457" width="2" height="2" patternUnits="userSpaceOnUse"><rect width="2" height="2" fill="#f4f4f4"/><rect width="1" height="1" fill="#fbfbfb"/><rect x="1" y="1" width="1" height="1" fill="#fbfbfb"/></pattern></defs><rect x="457" y="0" width="28" height="18" fill="url(#chk457)"/><rect x="456" y="18" width="30" height="1" fill="#ffffff"/><rect x="464" y="3" width="1" height="13" fill="#555555"/><polygon points="462.5,4.5 466.5,4.5 464.5,1.5" fill="#555555"/><rect x="462" y="13" width="13" height="1" fill="#555555"/><polygon points="474,11.5 474,15.5 477,13.5" fill="#555555"/><rect x="470" y="2" width="1" height="10" fill="#2070a0"/><polygon points="471.5,7.5 474.5,5.5 474,7 476.5,7.2 476.5,7.8 474,8 474.5,9.5" fill="#e05010" stroke="#a03000" stroke-width="0.5"/><rect x="485" y="0" width="1" height="18" fill="#a0a0a0"/><rect x="486" y="0" width="1" height="18" fill="#ffffff"/><path d="M495.5,-1 H503 L506.5,2.5 V13.5 H495.5 Z" fill="#fff" stroke="#707070" stroke-width="1"/><path d="M500,2 C498.5,2 498.5,3 498.5,4 V10 M497.5,5.5 H500" stroke="#404040" stroke-width="0.9" fill="none"/><path d="M503.0,6.050000000000001 H507.0 V9.8 H510.75 V13.8 H507.0 V17.55 H503.0 V13.8 H499.25 V9.8 H503.0 Z" fill="#10e030" stroke="#008a10" stroke-width="1"/><polygon points="516.5,7 522.5,7 519.5,10" fill="#000"/><circle cx="541" cy="7.7" r="6.8" fill="#f4f8fc" stroke="#1a6ad0" stroke-width="2"/><circle cx="541" cy="7.7" r="7.8" fill="none" stroke="#0a4aa0" stroke-width="0.6"/><path d="M540.5,4 V8 H543.5" stroke="#222" stroke-width="1" fill="none"/><polygon points="555.5,7 561.5,7 558.5,10" fill="#000"/><rect x="572.5" y="1.5" width="15" height="13" fill="#fff" stroke="#2a6cc0" stroke-width="1"/><rect x="573" y="2" width="14" height="2" fill="#9ac4f0"/><rect x="573" y="8" width="14" height="1" fill="#2a6cc0"/><path d="M574.5,6.8 L577,6 L579,5.5 L581,6.2 L583,5.2 L586,4.8" stroke="#b02010" stroke-width="1" fill="none"/><path d="M574.5,12.5 L577,11.5 L579,12 L582,10 L584.5,12.5" stroke="#20a020" stroke-width="1" fill="none"/><polygon points="594.5,7 600.5,7 597.5,10" fill="#000"/><rect x="606" y="0" width="1" height="18" fill="#a0a0a0"/><rect x="607" y="0" width="1" height="18" fill="#ffffff"/><rect x="610" y="0" width="3" height="1" fill="#9a9a9a"/><rect x="610" y="2" width="3" height="1" fill="#9a9a9a"/><rect x="610" y="4" width="3" height="1" fill="#9a9a9a"/><rect x="610" y="6" width="3" height="1" fill="#9a9a9a"/><rect x="610" y="8" width="3" height="1" fill="#9a9a9a"/><rect x="610" y="10" width="3" height="1" fill="#9a9a9a"/><rect x="610" y="12" width="3" height="1" fill="#9a9a9a"/><rect x="610" y="14" width="3" height="1" fill="#9a9a9a"/><rect x="610" y="16" width="3" height="1" fill="#9a9a9a"/><rect x="616" y="0" width="1" height="18" fill="#a0a0a0"/><rect x="617" y="0" width="1" height="18" fill="#ffffff"/><defs><pattern id="chk617" width="2" height="2" patternUnits="userSpaceOnUse"><rect width="2" height="2" fill="#f4f4f4"/><rect width="1" height="1" fill="#fbfbfb"/><rect x="1" y="1" width="1" height="1" fill="#fbfbfb"/></pattern></defs><rect x="617" y="0" width="25" height="18" fill="url(#chk617)"/><rect x="616" y="18" width="27" height="1" fill="#ffffff"/><polygon points="624.5,1.5 624.5,13 627,10.5 629.5,15 631.5,14 629,9.5 632.5,9.5" fill="#505050"/><rect x="656" y="1" width="1" height="15" fill="#606060"/><rect x="649" y="8" width="15" height="1" fill="#606060"/><rect x="673" y="0" width="1" height="18" fill="#a0a0a0"/><rect x="674" y="0" width="1" height="18" fill="#ffffff"/><rect x="690" y="2" width="1.2" height="13" fill="#606060"/><rect x="713" y="8" width="12" height="1.2" fill="#606060"/><path d="M741,15 L753,3" stroke="#606060" stroke-width="1.1"/><path d="M768,10 L780,1 M770,14 L782,5 M771,6 L773,12 M775,3 L777,9 M779,0 L781,6" stroke="#606060" stroke-width="1" fill="none"/><path d="M778.5,11.5 H781.5 M778.5,11.5 V16.5 H781.5 M778.5,14 H781" stroke="#404040" stroke-width="1" fill="none"/><line x1="796" y1="1.5" x2="809" y2="1.5" stroke="#606060" stroke-width="1" stroke-dasharray="1 1" shape-rendering="crispEdges"/><line x1="796" y1="4.5" x2="809" y2="4.5" stroke="#606060" stroke-width="1" stroke-dasharray="1 1" shape-rendering="crispEdges"/><line x1="796" y1="8.5" x2="809" y2="8.5" stroke="#606060" stroke-width="1" stroke-dasharray="1 1" shape-rendering="crispEdges"/><line x1="796" y1="12.5" x2="809" y2="12.5" stroke="#606060" stroke-width="1" stroke-dasharray="1 1" shape-rendering="crispEdges"/><path d="M806.5,17 V12.5 H809.5 M806.5,14.5 H809" stroke="#404040" stroke-width="1.2" fill="none"/><text x="826.5" y="12.8" font-family="Liberation Sans, sans-serif" font-size="12" font-weight="bold" fill="#606060">A</text><rect x="852.5" y="1.5" width="12" height="13" fill="none" stroke="#606060" stroke-width="1" stroke-dasharray="1 1" shape-rendering="crispEdges"/><text x="854.5" y="12.5" font-family="Liberation Sans, sans-serif" font-size="11.5" font-weight="bold" fill="#606060">T</text><polygon points="880.5,5 884,2 887,5 884,8" fill="#505050"/><path d="M884,8 L887,11 L891,5" stroke="#505050" stroke-width="1.4" fill="none"/><polygon points="888,12 891,9 894,12 891,15" fill="#505050"/><polygon points="900.5,7 906.5,7 903.5,10" fill="#000"/><rect x="912" y="0" width="1" height="18" fill="#a0a0a0"/><rect x="913" y="0" width="1" height="18" fill="#ffffff"/><rect x="916" y="0" width="3" height="1" fill="#9a9a9a"/><rect x="916" y="2" width="3" height="1" fill="#9a9a9a"/><rect x="916" y="4" width="3" height="1" fill="#9a9a9a"/><rect x="916" y="6" width="3" height="1" fill="#9a9a9a"/><rect x="916" y="8" width="3" height="1" fill="#9a9a9a"/><rect x="916" y="10" width="3" height="1" fill="#9a9a9a"/><rect x="916" y="12" width="3" height="1" fill="#9a9a9a"/><rect x="916" y="14" width="3" height="1" fill="#9a9a9a"/><rect x="916" y="16" width="3" height="1" fill="#9a9a9a"/><rect x="1062" y="0" width="1" height="18" fill="#a0a0a0"/><rect x="1063" y="0" width="1" height="18" fill="#ffffff"/><defs><pattern id="chk1063" width="2" height="2" patternUnits="userSpaceOnUse"><rect width="2" height="2" fill="#f4f4f4"/><rect width="1" height="1" fill="#fbfbfb"/><rect x="1" y="1" width="1" height="1" fill="#fbfbfb"/></pattern></defs><rect x="1063" y="0" width="24" height="18" fill="url(#chk1063)"/><rect x="1062" y="18" width="26" height="1" fill="#ffffff"/><text x="927.0" y="12" font-family="Liberation Sans, sans-serif" font-size="9.6" fill="#3c3c3c">M1</text><text x="955.0" y="12" font-family="Liberation Sans, sans-serif" font-size="9.6" fill="#3c3c3c">M5</text><text x="980.5" y="12" font-family="Liberation Sans, sans-serif" font-size="9.6" fill="#3c3c3c">M15</text><text x="1009.0" y="12" font-family="Liberation Sans, sans-serif" font-size="9.6" fill="#3c3c3c">M30</text><text x="1040.0" y="12" font-family="Liberation Sans, sans-serif" font-size="9.6" fill="#3c3c3c">H1</text><text x="1067.0" y="12" font-family="Liberation Sans, sans-serif" font-size="9.6" fill="#3c3c3c">H4</text><text x="1095.5" y="12" font-family="Liberation Sans, sans-serif" font-size="9.6" fill="#3c3c3c">D1</text><text x="1123.0" y="12" font-family="Liberation Sans, sans-serif" font-size="9.6" fill="#3c3c3c">W1</text><text x="1150.0" y="12" font-family="Liberation Sans, sans-serif" font-size="9.6" fill="#3c3c3c">MN</text><rect x="1173" y="0" width="1" height="18" fill="#a0a0a0"/><rect x="1174" y="0" width="1" height="18" fill="#ffffff"/><path d="M1640.5,8.8 L1636.5,12.6" stroke="#1a50c8" stroke-width="3" stroke-linecap="round"/><circle cx="1643.5" cy="5.5" r="3.8" fill="#eeeefa" stroke="#2a6ad8" stroke-width="1.3"/><path d="M1662.5,14.5 L1663.5,16.5 L1666,14.5" fill="#d8dae4" stroke="#909090" stroke-width="0.8"/><ellipse cx="1667" cy="10.5" rx="6" ry="4.3" fill="#e0e2ea" stroke="#a0a0a0" stroke-width="0.9"/><circle cx="1674.5" cy="5.6" r="8" fill="#e03a1a"/><text x="1674.5" y="9.8" text-anchor="middle" font-family="Liberation Serif, serif" font-size="12" fill="#fff">1</text></svg></body></html>
